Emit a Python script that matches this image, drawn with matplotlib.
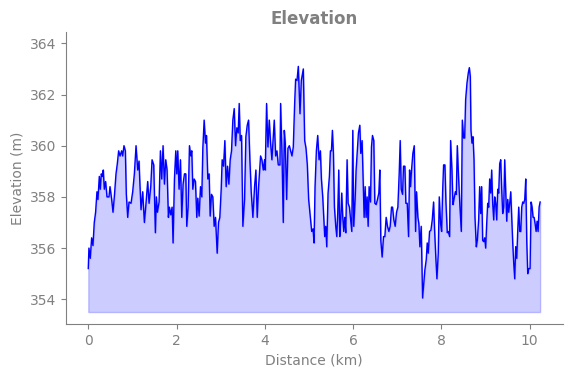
import matplotlib
matplotlib.use("Agg")
from matplotlib import pyplot as plt

# distance along the route (km) and elevation (m)
dist_km = [
    0.000, 0.015, 0.045, 0.076, 0.106, 0.136, 0.166, 0.197, 0.219, 0.250,
    0.272, 0.295, 0.318, 0.340, 0.363, 0.393, 0.424, 0.469, 0.492, 0.530,
    0.560, 0.590, 0.628, 0.658, 0.688, 0.719, 0.756, 0.779, 0.809, 0.840,
    0.862, 0.893, 0.923, 0.968, 1.006, 1.044, 1.082, 1.120, 1.150, 1.165,
    1.195, 1.233, 1.271, 1.301, 1.346, 1.377, 1.415, 1.445, 1.483, 1.520,
    1.543, 1.566, 1.604, 1.634, 1.664, 1.694, 1.725, 1.755, 1.785, 1.815,
    1.838, 1.868, 1.899, 1.921, 1.952, 1.982, 2.005, 2.027, 2.057, 2.088,
    2.118, 2.148, 2.179, 2.209, 2.231, 2.262, 2.292, 2.322, 2.345, 2.368,
    2.398, 2.428, 2.458, 2.481, 2.511, 2.542, 2.572, 2.595, 2.625, 2.655,
    2.678, 2.708, 2.738, 2.761, 2.791, 2.821, 2.852, 2.882, 2.920, 2.950,
    2.980, 3.011, 3.033, 3.064, 3.094, 3.124, 3.154, 3.185, 3.215, 3.245,
    3.275, 3.306, 3.336, 3.366, 3.396, 3.419, 3.442, 3.472, 3.502, 3.540,
    3.570, 3.601, 3.631, 3.661, 3.691, 3.729, 3.767, 3.797, 3.827, 3.858,
    3.903, 3.933, 3.964, 3.994, 4.009, 4.039, 4.070, 4.100, 4.130, 4.160,
    4.191, 4.213, 4.244, 4.274, 4.304, 4.342, 4.357, 4.387, 4.417, 4.440,
    4.463, 4.493, 4.523, 4.554, 4.584, 4.614, 4.644, 4.675, 4.697, 4.728,
    4.758, 4.796, 4.826, 4.871, 4.902, 4.932, 4.962, 4.992, 5.030, 5.061,
    5.091, 5.114, 5.137, 5.167, 5.197, 5.228, 5.258, 5.281, 5.311, 5.334,
    5.356, 5.379, 5.402, 5.432, 5.462, 5.485, 5.508, 5.530, 5.553, 5.576,
    5.606, 5.629, 5.651, 5.674, 5.697, 5.719, 5.742, 5.765, 5.787, 5.810,
    5.833, 5.863, 5.886, 5.916, 5.939, 5.969, 5.992, 6.014, 6.045, 6.067,
    6.090, 6.120, 6.151, 6.173, 6.203, 6.226, 6.249, 6.272, 6.294, 6.317,
    6.340, 6.362, 6.393, 6.415, 6.438, 6.468, 6.491, 6.521, 6.551, 6.582,
    6.604, 6.627, 6.657, 6.688, 6.718, 6.748, 6.778, 6.809, 6.839, 6.869,
    6.892, 6.922, 6.952, 6.983, 7.013, 7.043, 7.066, 7.089, 7.119, 7.141,
    7.172, 7.194, 7.225, 7.255, 7.278, 7.300, 7.323, 7.353, 7.384, 7.414,
    7.436, 7.467, 7.489, 7.512, 7.542, 7.573, 7.595, 7.625, 7.656, 7.678,
    7.701, 7.731, 7.762, 7.792, 7.822, 7.845, 7.875, 7.898, 7.928, 7.951,
    7.981, 8.004, 8.027, 8.049, 8.079, 8.102, 8.132, 8.155, 8.185, 8.208,
    8.238, 8.261, 8.284, 8.314, 8.337, 8.359, 8.390, 8.420, 8.450, 8.473,
    8.503, 8.526, 8.548, 8.579, 8.609, 8.632, 8.654, 8.669, 8.692, 8.715,
    8.738, 8.760, 8.790, 8.813, 8.843, 8.866, 8.889, 8.911, 8.934, 8.957,
    8.980, 9.002, 9.025, 9.048, 9.070, 9.093, 9.116, 9.138, 9.161, 9.184,
    9.207, 9.229, 9.252, 9.275, 9.297, 9.320, 9.343, 9.365, 9.388, 9.411,
    9.433, 9.456, 9.479, 9.502, 9.524, 9.547, 9.570, 9.592, 9.615, 9.638,
    9.660, 9.683, 9.706, 9.729, 9.751, 9.774, 9.797, 9.819, 9.842, 9.865,
    9.887, 9.910, 9.933, 9.955, 9.978, 10.008, 10.031, 10.054, 10.076, 10.099,
    10.122, 10.145, 10.167, 10.190, 10.213, 10.236,
]

elev_m = [
    355.2, 356.0, 355.6, 356.4, 356.1, 357.0, 357.4, 358.2, 357.9, 358.8,
    358.3, 358.9, 358.8, 359.05, 358.3, 358.6, 358.0, 358.0, 358.4, 357.9,
    357.4, 358.0, 358.9, 359.3, 359.8, 359.6, 359.8, 359.6, 360.0, 359.8,
    358.1, 357.2, 357.8, 357.75, 358.2, 358.9, 360.0, 359.05, 359.4, 358.7,
    357.5, 358.2, 357.0, 357.6, 358.6, 357.75, 358.4, 359.45, 359.25, 356.6,
    358.0, 357.4, 357.8, 359.8, 358.7, 360.0, 358.5, 359.45, 359.05, 357.2,
    357.6, 357.3, 357.6, 356.2, 358.7, 359.8, 358.9, 359.8, 358.3, 359.45,
    357.2, 358.5, 358.9, 358.9, 356.85, 357.6, 360.0, 359.6, 359.8, 358.3,
    358.7, 358.6, 357.2, 357.95, 357.25, 358.4, 358.0, 359.9, 361.0, 360.1,
    360.4, 358.7, 358.9, 357.25, 358.1, 358.0, 356.85, 357.2, 355.8, 357.0,
    357.2, 358.3, 359.45, 359.2, 360.2, 358.4, 359.2, 358.5, 359.45, 359.8,
    361.0, 361.45, 360.0, 360.7, 360.5, 361.65, 360.2, 360.4, 356.85, 357.9,
    360.35, 360.8, 361.0, 359.45, 358.2, 357.2, 358.4, 359.05, 357.2, 358.4,
    359.6, 359.45, 359.05, 359.45, 359.05, 361.65, 359.95, 361.0, 360.1, 359.45,
    360.35, 361.0, 359.6, 359.8, 359.25, 359.25, 361.65, 359.8, 357.0, 360.6,
    360.1, 357.9, 359.9, 360.0, 359.8, 359.6, 359.95, 361.65, 362.6, 362.55,
    363.1, 361.25, 362.55, 363.0, 360.2, 359.9, 359.25, 357.9, 357.2, 356.65,
    356.75, 356.2, 358.4, 359.8, 360.4, 359.45, 359.8, 358.7, 358.0, 357.2,
    356.45, 356.85, 356.05, 358.15, 358.8, 359.8, 359.8, 360.6, 359.7, 357.6,
    356.85, 356.45, 357.35, 359.05, 356.45, 357.1, 358.15, 357.2, 356.65, 357.2,
    356.6, 359.45, 357.75, 357.6, 357.2, 356.65, 360.6, 356.85, 357.9, 359.05,
    359.7, 360.5, 360.8, 359.7, 360.2, 358.7, 357.2, 358.4, 357.2, 358.0,
    356.85, 358.4, 357.8, 359.95, 360.4, 360.2, 357.75, 357.7, 357.9, 358.15,
    359.05, 356.3, 355.65, 356.45, 356.45, 357.2, 356.85, 356.65, 356.85, 357.6,
    357.6, 357.1, 356.85, 357.4, 357.6, 358.9, 360.2, 358.3, 358.1, 359.2,
    359.2, 357.75, 357.75, 356.45, 359.05, 358.4, 359.05, 359.7, 360.0, 356.65,
    358.2, 357.2, 356.95, 356.05, 356.85, 354.05, 354.5, 355.15, 355.55, 356.2,
    355.8, 356.65, 356.7, 357.1, 357.8, 356.7, 355.55, 354.8, 355.8, 358.0,
    356.95, 356.65, 358.2, 359.25, 359.25, 357.8, 356.6, 356.65, 356.45, 360.2,
    359.05, 357.7, 357.9, 358.2, 358.1, 360.0, 358.7, 357.6, 356.65, 361.0,
    360.3, 360.3, 361.8, 362.45, 362.85, 363.05, 362.7, 360.6, 360.1, 360.35,
    359.45, 357.2, 356.05, 356.3, 357.1, 358.4, 357.35, 358.4, 356.3, 356.25,
    356.4, 356.0, 356.95, 357.75, 357.6, 358.7, 358.15, 359.05, 357.75, 357.1,
    358.0, 357.75, 357.1, 358.3, 358.15, 359.3, 359.45, 358.3, 357.35, 357.6,
    359.45, 358.2, 357.05, 357.9, 357.4, 357.75, 358.2, 357.2, 356.2, 355.4,
    354.8, 356.05, 355.6, 356.7, 357.6, 356.65, 356.65, 357.6, 357.8, 357.75,
    357.9, 358.7, 356.25, 355.0, 355.2, 355.2, 357.8, 357.6, 357.2, 357.2,
    356.95, 356.65, 357.05, 356.65, 357.6, 357.8,
]

fill_base = 353.5
grey = "#808080"

fig = plt.figure(figsize=(5.71, 3.78), dpi=100)
ax = fig.add_axes([0.115, 0.142, 0.8705, 0.7725])

ax.plot(dist_km, elev_m, color="blue", linewidth=1)
ax.fill_between(dist_km, elev_m, fill_base, color="blue", alpha=0.2)

ax.set_ylim(353.02, 364.43)
ax.set_title("Elevation", color=grey, fontweight="bold", fontsize=12)
ax.set_xlabel("Distance (km)", color=grey)
ax.set_ylabel("Elevation (m)", color=grey)

for side in ["top", "right"]:
    ax.spines[side].set_visible(False)
for side in ["left", "bottom"]:
    ax.spines[side].set_color(grey)
ax.tick_params(colors=grey)

fig.savefig("out.png", dpi=100)
